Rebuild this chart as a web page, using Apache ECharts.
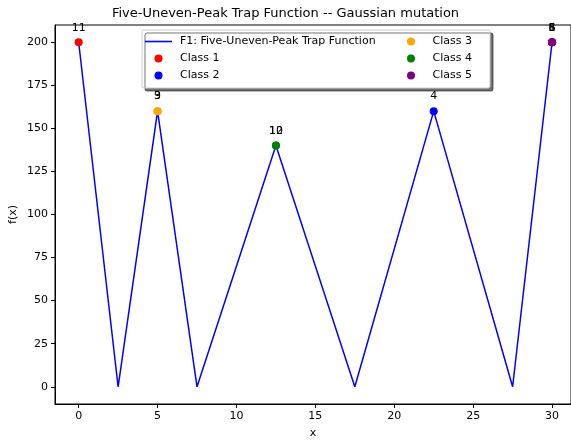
<!DOCTYPE html>
<html>
<head>
<meta charset="utf-8">
<script src="https://cdn.jsdelivr.net/npm/echarts@6/dist/echarts.min.js"></script>
<style>
  html, body { margin: 0; padding: 0; background: #fff; }
  #chart { width: 571px; height: 442px; }
</style>
</head>
<body>
<div id="chart"></div>
<script>
// trap function vertices
const trapX = [0, 2.5, 5, 7.5, 12.5, 17.5, 22.5, 27.5, 30];
const trapY = [200, 0, 160, 0, 140, 0, 160, 0, 200];

// found optima per class: [x, y, run label]
const class1 = [[0, 200, '11']];
const class2 = [[22.5, 160, '4'], [30, 200, '1']];
const class3 = [[5, 160, '9'], [5, 160, '3']];
const class4 = [[12.5, 140, '10'], [12.5, 140, '12']];
const class5 = [[30, 200, '5'], [30, 200, '6'], [30, 200, '8']];

const xTicks = [0, 5, 10, 15, 20, 25, 30];
const yTicks = [0, 25, 50, 75, 100, 125, 150, 175, 200];

const font = 'DejaVu Sans';
let myChart = echarts.init(document.getElementById('chart'));

function classSeries(name, color, pts) {
    return {
        name: name,
        type: 'scatter',
        symbolSize: 8,
        itemStyle: { color: color, opacity: 1 },
        data: pts.map(p => ({ value: [p[0], p[1]], name: p[2] })),
        label: {
            show: true,
            position: 'top',
            distance: 5,
            formatter: p => p.name,
            color: '#000',
            fontFamily: font,
            fontSize: 11
        },
        labelLayout: { hideOverlap: false },
        z: 3
    };
}

const legendText = { fontFamily: font, fontSize: 11, color: '#000', lineHeight: 13, padding: [0, 0, 0, 3] };

const option = {
    animation: false,
    backgroundColor: '#fff',
    title: {
        text: 'Five-Uneven-Peak Trap Function -- Gaussian mutation',
        left: 'center',
        top: 2,
        textStyle: { fontFamily: font, fontSize: 13, fontWeight: 'normal', color: '#000' }
    },
    graphic: [{
        type: 'rect',
        shape: { x: 142, y: 30, width: 348, height: 58, r: 2 },
        style: {
            fill: '#fff',
            stroke: '#cccccc',
            lineWidth: 1,
            shadowColor: 'rgba(0,0,0,0.55)',
            shadowOffsetX: 3,
            shadowOffsetY: 3,
            shadowBlur: 0
        },
        z: 10
    }],
    legend: [{
        orient: 'vertical',
        left: 140,
        top: 30,
        itemGap: 4,
        itemWidth: 27,
        itemHeight: 8,
        z: 20,
        data: [
            { name: 'F1: Five-Uneven-Peak Trap Function', icon: 'path://M0,3.2 L27,3.2 L27,4.8 L0,4.8 Z' },
            { name: 'Class 1', icon: 'circle' },
            { name: 'Class 2', icon: 'circle' }
        ],
        textStyle: legendText
    }, {
        orient: 'vertical',
        left: 402,
        top: 30,
        itemGap: 4,
        itemWidth: 27,
        itemHeight: 8,
        z: 20,
        data: [
            { name: 'Class 3', icon: 'circle' },
            { name: 'Class 4', icon: 'circle' },
            { name: 'Class 5', icon: 'circle' }
        ],
        textStyle: legendText
    }],
    grid: {
        left: 55, right: 0, top: 25, bottom: 38,
        outerBoundsMode: 'none',
        containLabel: false,
        show: true,
        borderColor: '#000',
        borderWidth: 1,
        backgroundColor: 'transparent'
    },
    xAxis: {
        type: 'value',
        min: -1.5,
        max: 31.2,
        name: 'x',
        nameLocation: 'middle',
        nameGap: 24,
        nameTextStyle: { fontFamily: font, fontSize: 11, color: '#000' },
        axisLine: { show: true, onZero: false, lineStyle: { color: '#000', width: 1 } },
        axisTick: { show: true, length: 4, customValues: xTicks, lineStyle: { color: '#000' } },
        axisLabel: { customValues: xTicks, fontFamily: font, fontSize: 11, color: '#000', margin: 7 },
        splitLine: { show: false }
    },
    yAxis: {
        type: 'value',
        min: -10,
        max: 210,
        name: 'f(x)',
        nameLocation: 'middle',
        nameGap: 36,
        nameMoveOverlap: false,
        nameTextStyle: { fontFamily: font, fontSize: 11, color: '#000' },
        axisLine: { show: true, onZero: false, lineStyle: { color: '#000', width: 1 } },
        axisTick: { show: true, length: 4, customValues: yTicks, lineStyle: { color: '#000' } },
        axisLabel: { customValues: yTicks, fontFamily: font, fontSize: 11, color: '#000', margin: 7 },
        splitLine: { show: false }
    },
    series: [{
        name: 'F1: Five-Uneven-Peak Trap Function',
        type: 'line',
        data: trapX.map((x, i) => [x, trapY[i]]),
        showSymbol: false,
        symbol: 'none',
        lineStyle: { color: 'blue', width: 1.5 },
        itemStyle: { color: 'blue' },
        z: 2
    },
        classSeries('Class 1', 'red', class1),
        classSeries('Class 2', 'blue', class2),
        classSeries('Class 3', 'orange', class3),
        classSeries('Class 4', 'green', class4),
        classSeries('Class 5', 'purple', class5)
    ]
};

myChart.setOption(option);
</script>
</body>
</html>
